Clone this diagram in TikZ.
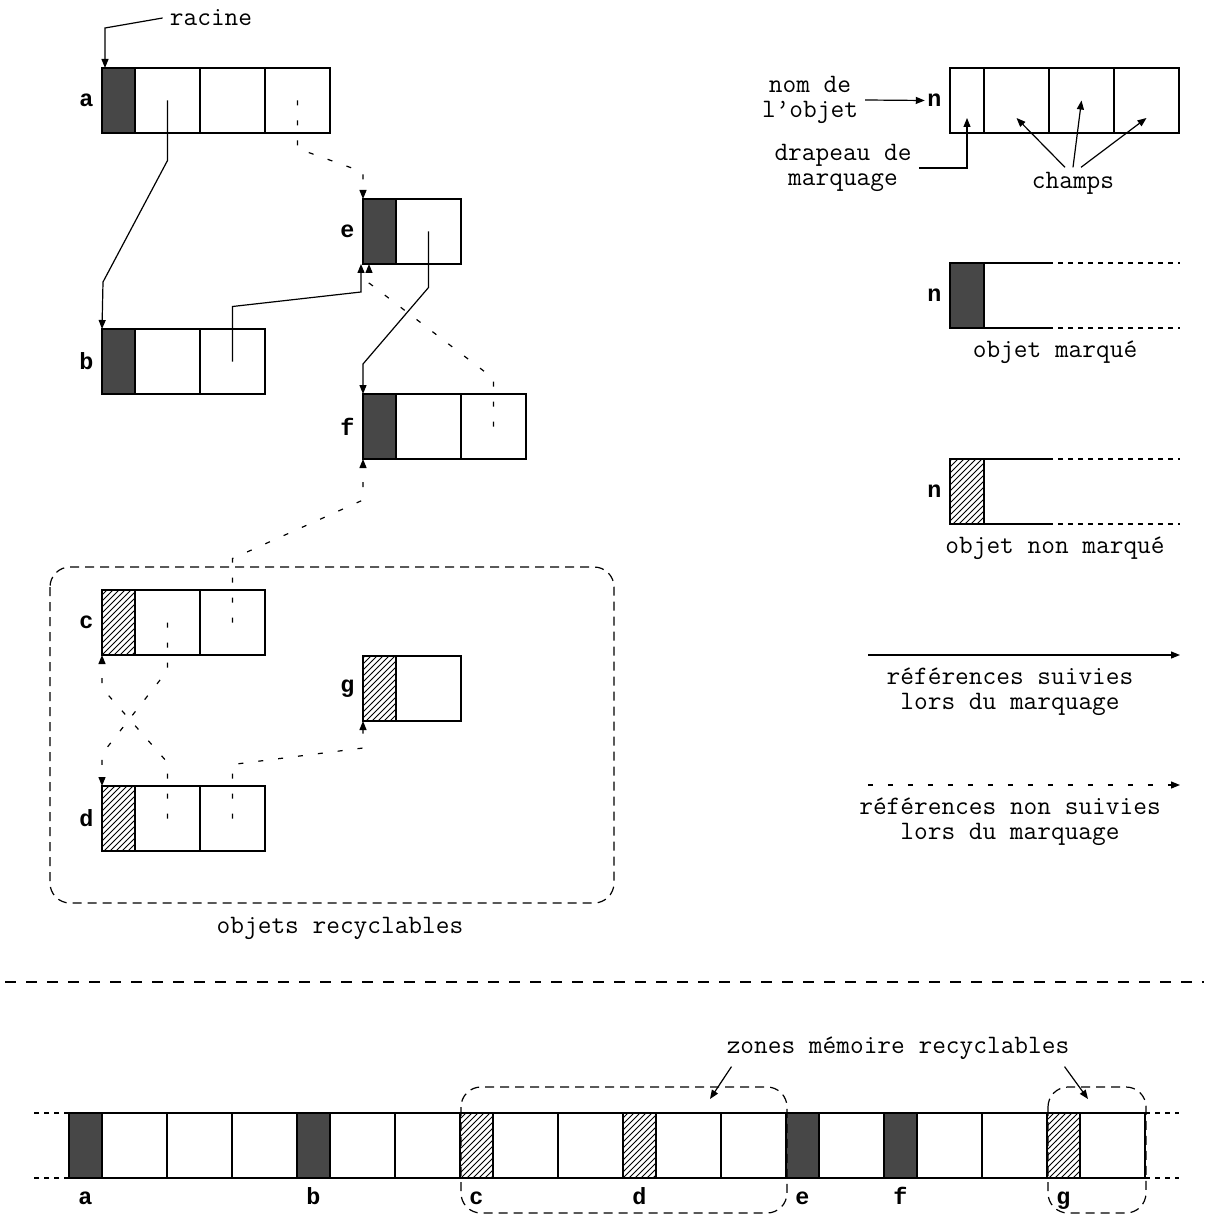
\documentclass[tikz,border=0pt]{standalone}
\usepackage{fontspec}
\newfontfamily\lblfont{Liberation Mono}
\usetikzlibrary{positioning,patterns,arrows.meta}
\begin{document}
\begin{tikzpicture}[x=0.5pt, y=-0.5pt, line width=0.6pt,
  font=\ttfamily\fontsize{13.3}{12.4}\selectfont,
  flagm/.style={draw, fill=black!72, minimum width=16.5pt, minimum height=32.5pt, inner sep=0pt, outer sep=0pt},
  flagu/.style={draw, pattern=north east lines, minimum width=16.5pt, minimum height=32.5pt, inner sep=0pt, outer sep=0pt},
  flagl/.style={draw, minimum width=17pt, minimum height=32.5pt, inner sep=0pt, outer sep=0pt},
  cell/.style={draw, minimum width=32.5pt, minimum height=32.5pt, inner sep=0pt, outer sep=0pt},
  lbl/.style={font=\lblfont\bfseries\fontsize{11.7}{12.4}\selectfont, inner sep=1pt},
  ref/.style={-{Triangle[length=4.5pt,width=3.5pt]}},
  nref/.style={ref, dash pattern=on 2.5pt off 7.5pt},
  zone/.style={dash pattern=on 4.5pt off 3pt, rounded corners=10pt},
  ext/.style={dash pattern=on 2.5pt off 2.5pt}]
\useasboundingbox (0,0) rectangle (1204,1219);

% les objets
\foreach \n/\x/\y/\f/\k in {a/102/68/flagm/3, b/102/329/flagm/2, e/363/199/flagm/1, f/363/394/flagm/2, c/102/590/flagu/2, d/102/786/flagu/2, g/363/656/flagu/1}
{
    \node[\f, anchor=north west] (\n0) at (\x,\y) {};
    \node[lbl, left=3pt of \n0] (l\n) {\n};
    \foreach \i [remember=\i as \j (initially 0)] in {1,...,\k}
        \node[cell, right=0pt of \n\j] (\n\i) {};
}
\node (racine) at (211,18) {racine};
\draw[ref] (racine.west) -- (105,28) -- ([xshift=1.5pt]a0.north west);

% references
\draw[ref] (a1.center) -- ++(0,60) -- (103,282) -- (b0.north west);
\draw[nref] (a3.center) -- ++(0,48) -- (363,172) -- (e0.north west);
\draw[ref] (b2.center) -- ++(0,-55) -- (361,292) -- ([xshift=-1pt]e0.south west);
\draw[ref] (e1.center) -- ++(0,56) -- (363,364) -- (f0.north west);
\draw[nref] (f2.center) -- ++(0,-48) -- (369,283) -- ([xshift=3pt]e0.south west);
\draw[nref] (c2.center) -- ++(0,-64) -- (363,500) -- (f0.south west);
\draw[nref] (c1.center) -- ++(0,48) -- (102,754) -- (d0.north west);
\draw[nref] (d1.center) -- ++(0,-56) -- (102,688) -- (c0.south west);
\draw[nref] (d2.center) -- ++(0,-54) -- (363,748) -- (g0.south west);

\draw[zone] (50,567) rectangle (614,903);
\node (objrec) at (340,928) {objets recyclables};

% legende
\node[flagl, anchor=north west] (n0) at (950,68) {};
\node[lbl, left=3pt of n0] (ln0) {n};
\foreach \i [remember=\i as \j (initially 0)] in {1,2,3}
    \node[cell, right=0pt of n\j] (n\i) {};
\node[align=center] (nomobj) at (810,100) {nom de\\l’objet};
\draw[ref] (nomobj.east) -- (ln0.west);
\node[align=center] (drap) at (843,168) {drapeau de\\marquage};
\draw[ref] (drap.east) -| ([yshift=7.5pt]n0.south);
\node[inner sep=2pt] (champs) at (1073,183) {champs};
\draw[ref] ([xshift=-4pt]champs.north) -- ([yshift=7.5pt]n1.south);
\draw[ref] (champs.north) -- (n2.center);
\draw[ref] ([xshift=4pt]champs.north) -- ([yshift=7.5pt]n3.south);

\foreach \o/\f/\y in {m/flagm/263, u/flagu/459}
{
    \node[\f, minimum width=17pt, anchor=north west] (\o0) at (950,\y) {};
    \node[lbl, left=3pt of \o0] (l\o0) {n};
    \foreach \s in {north east, south east}
    {
        \draw (\o0.\s) -- ++(64,0);
        \draw[ext] ([xshift=32pt]\o0.\s) -- ++(132,0);
    }
}
\node (objm) at (1055,352) {objet marqué};
\node (objnm) at (1055,548) {objet non marqué};

\coordinate (r1a) at (868,655);
\coordinate (r1b) at (1180,655);
\draw[ref] (r1a) -- (r1b);
\node[align=center] (suiv) at (1010,692) {références suivies\\lors du marquage};
\coordinate (r2a) at (868,785);
\coordinate (r2b) at (1180,785);
\draw[nref] (r2a) -- (r2b);
\node[align=center] (nsuiv) at (1010,822) {références non suivies\\lors du marquage};

\draw[dash pattern=on 5.5pt off 5pt] (5,982) -- (1204,982);

% la memoire
\foreach \n/\f/\k/\x in {a/flagm/3/69, b/flagm/2/297, c/flagu/2/460, d/flagu/2/623, e/flagm/1/786, f/flagm/2/884, g/flagu/1/1047}
{
    \node[\f, anchor=north west] (s\n0) at (\x,1113) {};
    \node[lbl, anchor=base] (sl\n) at ([yshift=-13pt]s\n0.south) {\n};
    \foreach \i [remember=\i as \j (initially 0)] in {1,...,\k}
        \node[cell, right=0pt of s\n\j] (s\n\i) {};
}
\draw[ext] (sa0.north west) -- ++(-36,0);
\draw[ext] (sa0.south west) -- ++(-36,0);
\draw[ext] (sg1.north east) -- ++(34,0);
\draw[ext] (sg1.south east) -- ++(34,0);

\draw[zone] (461,1087) rectangle (787,1213);
\draw[zone] (1048,1087) rectangle (1146,1213);
\node (zones) at (898,1048) {zones mémoire recyclables};
\draw[ref] ([xshift=6pt]zones.south west) -- (710,1099);
\draw[ref] ([xshift=-6pt]zones.south east) -- (1088,1099);

\end{tikzpicture}
\end{document}
